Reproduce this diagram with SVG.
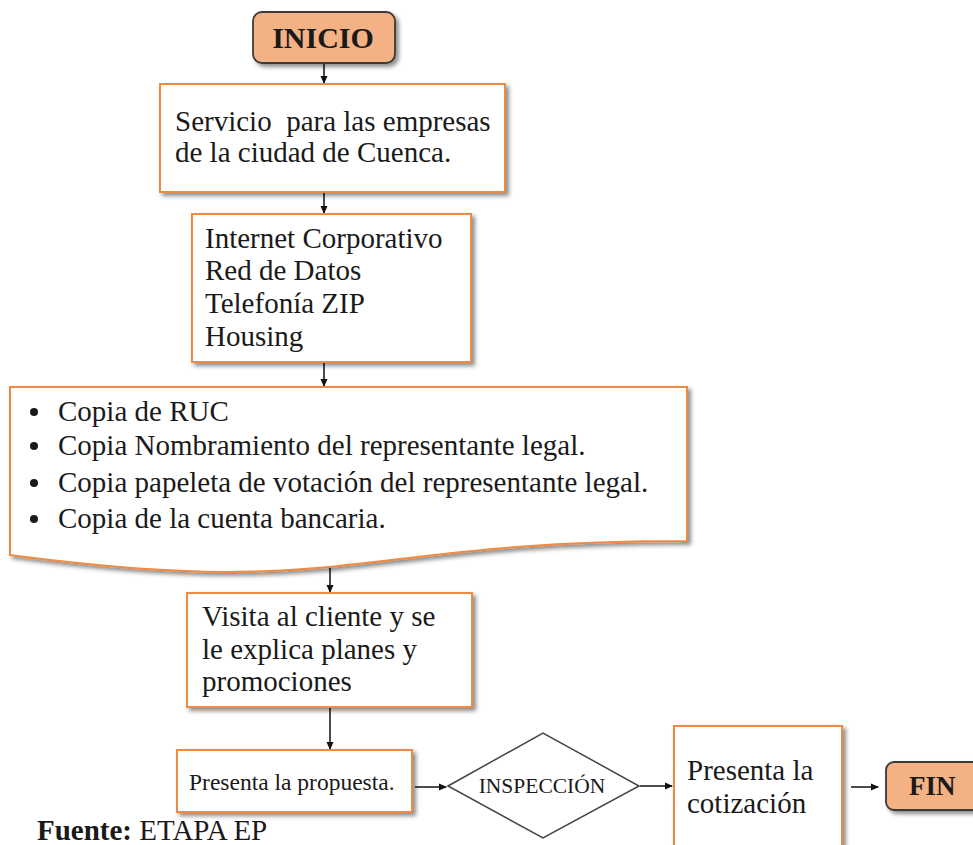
<svg xmlns="http://www.w3.org/2000/svg" width="973" height="845" viewBox="0 0 973 845">
  <style>
    text { font-family: "Liberation Serif", "Times New Roman", serif; fill: #1a1a1a; }
    .proc { fill: #ffffff; stroke: #F08A43; stroke-width: 2; }
    .term { fill: #F4B183; stroke: #3a3a3a; stroke-width: 1.8; }
    .dec { fill: #ffffff; stroke: #444444; stroke-width: 1.5; }
    .lbl { font-size: 29px; }
    .term-lbl { font-size: 30px; font-weight: bold; }
    .edge { stroke: #111111; stroke-width: 1.5; fill: none; marker-end: url(#arrow); }
  </style>
  <defs>
    <marker id="arrow" markerWidth="8" markerHeight="8" refX="7" refY="4" orient="auto" markerUnits="userSpaceOnUse">
      <path d="M0,0.5 L8,4 L0,7.5 Z" fill="#111111"/>
    </marker>
    <filter id="shadow" x="-10%" y="-10%" width="125%" height="130%">
      <feDropShadow dx="3" dy="3" stdDeviation="2" flood-color="#000000" flood-opacity="0.45"/>
    </filter>
  </defs>

  <rect width="973" height="845" fill="#ffffff"/>

  <!-- connectors -->
  <g id="connectors">
    <line class="edge" x1="324" y1="64" x2="324" y2="83"/>
    <line class="edge" x1="324" y1="193" x2="324" y2="213"/>
    <line class="edge" x1="324" y1="363" x2="324" y2="386"/>
    <line class="edge" x1="330" y1="565" x2="330" y2="592"/>
    <line class="edge" x1="330" y1="708" x2="330" y2="749"/>
    <line class="edge" x1="415" y1="787" x2="446" y2="787"/>
    <line class="edge" x1="640" y1="786" x2="672" y2="786"/>
    <line class="edge" x1="851" y1="787" x2="878" y2="787"/>
  </g>

  <!-- start terminal -->
  <g id="inicio">
    <rect class="term" x="253" y="12" width="142" height="51" rx="9" filter="url(#shadow)"/>
    <text class="term-lbl" x="323" y="48" text-anchor="middle">INICIO</text>
  </g>

  <g id="servicio">
    <rect class="proc" x="160" y="84" width="345" height="108" filter="url(#shadow)"/>
    <text class="lbl" x="175" y="131" xml:space="preserve">Servicio  para las empresas</text>
    <text class="lbl" x="175" y="162">de la ciudad de Cuenca.</text>
  </g>

  <g id="servicios-lista">
    <rect class="proc" x="192" y="214" width="279" height="148" filter="url(#shadow)"/>
    <text class="lbl" x="205" y="248">Internet Corporativo</text>
    <text class="lbl" x="205" y="280">Red de Datos</text>
    <text class="lbl" x="205" y="313">Telefonía ZIP</text>
    <text class="lbl" x="205" y="346">Housing</text>
  </g>

  <!-- document shape with requirements -->
  <g id="requisitos">
    <path class="proc" d="M10,387 H687 V541 C348,541 348,600 10,555 Z" filter="url(#shadow)"/>
    <g fill="#1a1a1a">
      <circle cx="34" cy="412" r="4"/>
      <circle cx="34" cy="446" r="4"/>
      <circle cx="34" cy="483" r="4"/>
      <circle cx="34" cy="519" r="4"/>
    </g>
    <text class="lbl" x="58" y="421">Copia de RUC</text>
    <text class="lbl" x="58" y="455">Copia Nombramiento del representante legal.</text>
    <text class="lbl" x="58" y="492">Copia papeleta de votación del representante legal.</text>
    <text class="lbl" x="58" y="528">Copia de la cuenta bancaria.</text>
  </g>

  <g id="visita">
    <rect class="proc" x="187" y="593" width="285" height="114" filter="url(#shadow)"/>
    <text class="lbl" x="202" y="626">Visita al cliente y se</text>
    <text class="lbl" x="202" y="659">le explica planes y</text>
    <text class="lbl" x="202" y="691">promociones</text>
  </g>

  <g id="propuesta">
    <rect class="proc" x="177" y="750" width="235" height="62" filter="url(#shadow)"/>
    <text x="189" y="790" font-size="23.5">Presenta la propuesta.</text>
  </g>

  <g id="inspeccion">
    <polygon class="dec" points="448,786 543,733 639,786 543,838"/>
    <text x="542" y="793" font-size="21.5" text-anchor="middle" fill="#333333">INSPECCIÓN</text>
  </g>

  <g id="cotizacion">
    <rect class="proc" x="674" y="726" width="168" height="140" filter="url(#shadow)"/>
    <text class="lbl" x="687" y="780">Presenta la</text>
    <text class="lbl" x="687" y="813">cotización</text>
  </g>

  <g id="fin">
    <rect class="term" x="886" y="762" width="100" height="48" rx="8" filter="url(#shadow)"/>
    <text x="909" y="795" font-size="27" font-weight="bold">FIN</text>
  </g>

  <text x="37" y="840" font-size="29"><tspan font-weight="bold">Fuente:</tspan> ETAPA EP</text>
</svg>
